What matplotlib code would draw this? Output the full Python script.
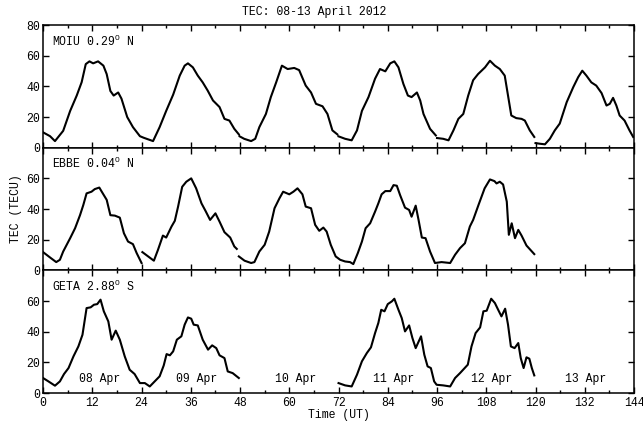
import numpy as np
import matplotlib.pyplot as plt
from matplotlib.ticker import MultipleLocator

plt.rcParams['font.family'] = ['Liberation Mono', 'DejaVu Sans Mono']
plt.rcParams['mathtext.fontset'] = 'custom'
plt.rcParams['mathtext.rm'] = 'Liberation Mono'
plt.rcParams['font.size'] = 8.3

nan = np.nan

# MOIU 0.29 N  (time in UT hours, TEC in TECU, nan = data gap)
moiu_t = [0, 1.7, 2.9, 4.9, 6.6, 8.2, 9.4, 10.4, 11.3, 12.2, 13.4, 14.7, 15.5, 16.4, 17.2, 18.3,
          19.1, 20.5, 21.9, 23.6, 24.5, 26.8, 28.4, 30, 31.7, 33.3, 34.5, 35.3, 36.5, 37.7, 38.9,
          40.1, 41.4, 43, 44.2, 45.4, 46.6, 47.7, 47.8,
          47.9, 49, 50.7, 51.7, 52.7, 54.3, 55.5, 56.8, 58.2, 59.6, 61.2, 62.4, 64, 65.3, 66.5,
          68.1, 69.3, 70.5, 71.7, 71.9,
          72, 73.6, 75.2, 76.5, 77.7, 79.3, 80.9, 82.1, 83.4, 84.6, 85.6, 86.6, 87.8, 88.9, 89.8,
          91.1, 91.9, 92.7, 94.3, 95.7, 95.9,
          96, 97.5, 98.8, 100, 101.2, 102.4, 103.6, 104.8, 106, 107.7, 108.9, 110.1, 111.3, 112.5,
          113.3, 114.1, 115.3, 116.6, 117.4, 118.6, 119.7, 119.9,
          120, 121, 122.3, 123.5, 124.7, 125.9, 127.6, 129.2, 130.4, 131.4, 132.4, 133.6, 134.8,
          136.1, 137.3, 138.1, 138.9, 139.7, 140.5, 141.7, 142.9, 143.8]
moiu_v = [10, 7.5, 4.3, 11, 24, 34, 42.7, 54.5, 56.3, 55, 56.3, 53.5, 48, 37, 34, 36,
          32, 20, 13.4, 7.5, 6.5, 4.3, 13.4, 24, 34.6, 47, 53.5, 55, 52.4, 47, 42.6,
          37.3, 30.8, 26.5, 18.8, 17.7, 12.3, 8.7, nan,
          7.4, 5.8, 4.3, 5.8, 13.4, 22, 33, 42.6, 53.5, 51.3, 52, 50.6, 40.5, 36, 28.6,
          27, 22, 11.3, 8.7, nan,
          7.4, 5.8, 4.8, 11.3, 24, 33, 45, 51.3, 49.8, 55, 56.3, 52.4, 41.6, 34, 33,
          36, 30.8, 22, 12.3, 8, nan,
          6.3, 5.8, 4.8, 11.3, 18.8, 22, 34, 44, 48, 52.4, 56.7, 53.5, 51.3, 47,
          34, 21, 19.3, 18.8, 17.7, 11.3, 7, nan,
          3, 2.6, 2.2, 5.8, 11.3, 15.7, 29.7, 39.5, 46, 50.2, 47, 42.6, 40.5,
          35.6, 27.5, 28.6, 32.5, 27.5, 21, 17.7, 11.3, 7]

# EBBE 0.04 N
ebbe_t = [0, 1.7, 3.2, 4.1, 4.9, 6.6, 7.8, 9, 9.8, 10.6, 11.8, 12.6, 13.7, 14.3, 15.5, 16.4,
          17.5, 18.7, 19.7, 20.7, 21.9, 22.8, 24, 24.1,
          24.2, 25.6, 27, 28, 29.2, 30, 31.3, 32.1, 32.9, 33.9, 34.9, 36.1, 37.3, 38.6, 39.6,
          40.7, 42, 43, 44.2, 45.6, 46.6, 47.2, 47.5,
          47.7, 49.1, 50.7, 51.5, 52.7, 54, 55.1, 56.4, 57.6, 58.5, 60, 61, 62, 63.2, 64, 65.3,
          66.3, 67.3, 68.3, 69.1, 70.1, 71.3, 72.4, 73.6, 74.8, 75.6, 76.7, 77.7, 78.6, 79.7,
          80.9, 81.7, 82.5, 83.4, 84.6, 85.4, 86.2, 87, 88.2, 89.2, 89.8, 90.8, 91.5, 92.3,
          93.2, 94.3, 95.5, 97.1, 99.2, 100.4, 101.6, 102.8, 104, 104.8, 106.1, 107.6, 108.9,
          110, 110.5, 111.3, 112.1, 113, 113.5, 114.2, 115, 115.8, 116.6, 117.8, 119.7]
ebbe_v = [11.9, 8.4, 5.4, 6.9, 12.3, 21, 27.5, 36, 42.6, 50.2, 51.3, 53, 54, 51.3, 46, 36,
          35.7, 34.4, 24.2, 18.8, 17.1, 11.3, 4.8, nan,
          11.9, 9.1, 6.3, 13.4, 22.7, 21.4, 28.6, 32.3, 41.6, 54.5, 57.8, 60, 53.5, 43.7, 38.7,
          32.9, 37.2, 31.8, 24.9, 21.4, 15.6, 14, nan,
          9.1, 6.3, 4.8, 5.4, 12.3, 16.7, 25.3, 40.5, 47, 51.3, 49.6, 51.3, 53.5, 49.6, 41.6, 40.5,
          29.7, 25.8, 27.9, 25.3, 16.7, 9.1, 6.9, 5.8, 5.4, 4.1, 11.3, 18.8, 27.5, 30.7,
          38.3, 43.7, 49.6, 51.7, 51.7, 55.6, 55.2, 49.1, 40.9, 39.4, 35, 42.2, 32.9, 21.4,
          21, 12.3, 4.8, 5.4, 4.8, 10.2, 14.5, 17.7, 28.6, 32.9, 42.6, 53.5, 59.3,
          58.2, 56.7, 57.8, 56, 44.8, 23.2, 30.7, 21, 26.4, 22.7, 16.2, 10.6]

# GETA 2.88 S
geta_t = [0, 1.3, 2.9, 4.1, 5.1, 6.2, 7.4, 8.6, 9.6, 10.6, 11.6, 12.4, 13.2, 14, 14.8, 15.9,
          16.7, 17.7, 18.7, 19.9, 21.1, 22.3, 23.6, 24.8, 26, 27.2, 28.4, 29.4, 30.1, 30.9,
          31.7, 32.6, 33.7, 34.5, 35.3, 36.1, 36.7, 37.7, 38.9, 40.2, 41.2, 42.2, 43, 44.2,
          45, 46.2, 47.7, 60,
          72, 73.6, 75.2, 76.5, 77.7, 78.9, 79.9, 80.9, 81.7, 82.4, 83.2, 84, 85, 85.6, 86.6,
          87.4, 88.2, 89.2, 90, 90.8, 92.1, 92.9, 93.7, 94.5, 95.3, 95.9, 97.5, 99.2, 100.4,
          101.6, 103.5, 104.4, 105.4, 106.5, 107.3, 108.1, 109.2, 110.1, 110.9, 111.7, 112.6,
          113.3, 114, 114.9, 115.8, 116.4, 117.1, 117.8, 118.5, 119.1, 119.7]
geta_v = [9.8, 7.6, 4.8, 7.6, 12.4, 16.3, 23.9, 30.4, 38, 55.4, 55.9, 57.6, 58, 60.9, 53.3, 46.7,
          34.8, 40.7, 34.8, 23.9, 15.2, 12.4, 6.5, 6.5, 4.3, 7.6, 10.9, 18, 25.4, 24.6,
          27.2, 34.8, 37, 44.6, 49.3, 48.5, 44.6, 44.1, 34.8, 28.3, 31.1, 29.3, 24.6, 22.8,
          14.1, 13, 9.8, nan,
          6.5, 5, 4.3, 12, 20.7, 26.1, 29.8, 39.1, 45.7, 54.3, 53.3, 58, 59.8, 61.5, 54.3,
          48.9, 40.2, 44.1, 35.9, 29.3, 37, 25, 17.4, 16.3, 7.6, 5.4, 5, 4.3, 9.8,
          13, 18.5, 30.4, 39.1, 42.8, 53.3, 53.7, 61.5, 58.7, 54.3, 50, 55,
          44.6, 30.4, 29.3, 32.6, 22.8, 16.3, 23.3, 22.4, 16.3, 11.5]

stations = ['MOIU 0.29$^{\\rm O}$ N', 'EBBE 0.04$^{\\rm O}$ N', 'GETA 2.88$^{\\rm O}$ S']
day_labels = ['08 Apr', '09 Apr', '10 Apr', '11 Apr', '12 Apr', '13 Apr']
day_pos = [13.7, 37.5, 61.5, 85.5, 109.2, 132.2]

fig, axes = plt.subplots(3, 1, sharex=True, figsize=(6.43, 4.24), dpi=100)
plt.subplots_adjust(left=0.067, right=0.986, bottom=0.073, top=0.941, hspace=0)

series = [(moiu_t, moiu_v), (ebbe_t, ebbe_v), (geta_t, geta_v)]
for i, ax in enumerate(axes):
    t, v = series[i]
    ax.plot(t, v, color='black', lw=1.5)
    ax.set_xlim(0, 144)
    ax.set_ylim(0, 80)
    if i == 0:
        ax.set_yticks([0, 20, 40, 60, 80])
    else:
        ax.set_yticks([0, 20, 40, 60])
    ax.xaxis.set_major_locator(MultipleLocator(12))
    ax.xaxis.set_minor_locator(MultipleLocator(6))
    ax.tick_params(which='both', direction='in', top=True, right=True, width=1)
    ax.tick_params(which='major', length=4)
    ax.tick_params(which='minor', length=2.5)
    ax.tick_params(axis='y', labelright=False, pad=2)
    for s in ax.spines.values():
        s.set_linewidth(1.1)
    ax.text(2.2, 69.5, stations[i], ha='left', va='center')

for lab, x in zip(day_labels, day_pos):
    axes[2].text(x, 9, lab, ha='center', va='center')

axes[1].set_ylabel('TEC (TECU)', labelpad=3)
axes[2].set_xlabel('Time (UT)', labelpad=0)
axes[2].tick_params(axis='x', pad=3)
fig.text(314 / 643, 1 - 12 / 424, 'TEC: 08-13 April 2012', ha='center', va='center')

plt.savefig('out.png', dpi=100)
